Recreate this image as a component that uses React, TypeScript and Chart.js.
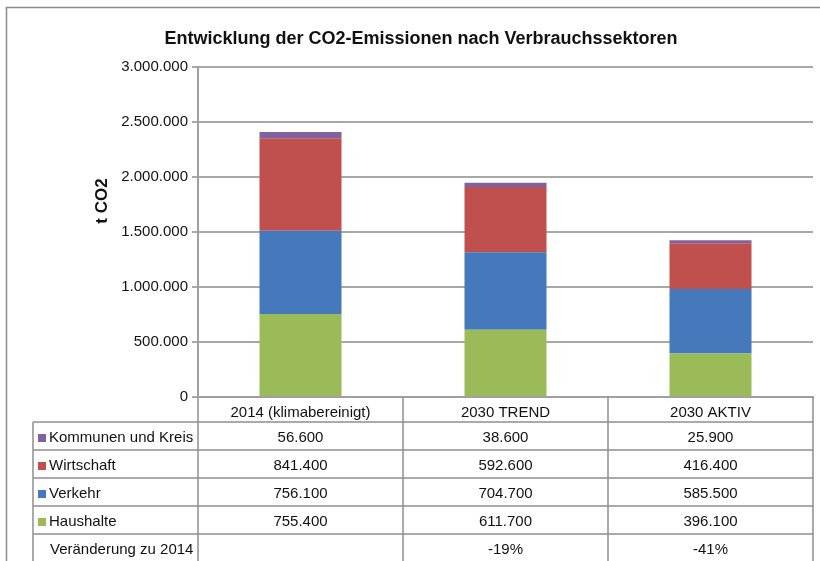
import React, { useEffect, useRef } from "react";
import { Chart, registerables } from "chart.js";

Chart.register(...registerables);

const categories = ["2014 (klimabereinigt)", "2030 TREND", "2030 AKTIV"];
const seriesNames = ["Haushalte", "Verkehr", "Wirtschaft", "Kommunen und Kreis"];
const haushalte = [755400, 611700, 396100];
const verkehr = [756100, 704700, 585500];
const wirtschaft = [841400, 592600, 416400];
const kommunen = [56600, 38600, 25900];
const changeLabel = "Veränderung zu 2014";
const changeValues = ["", "-19%", "-41%"];
const seriesColors = ["#9BBB59", "#4579BC", "#C0504D", "#7F63A1"];
const yTicks = [0, 500000, 1000000, 1500000, 2000000, 2500000, 3000000];
const titleText = "Entwicklung der CO2-Emissionen nach Verbrauchssektoren";
const yTitle = "t CO2";

const fmt = (v: number) => {
  const s = Math.round(v).toString();
  return s.replace(/\B(?=(\d{3})+(?!\d))/g, ".");
};

const FONT = "'Liberation Sans', Arial, sans-serif";

const tablePlugin = {
  id: "tablePlugin",
  afterDraw(chart: any) {
    const ctx = chart.ctx as CanvasRenderingContext2D;
    const area = chart.chartArea;
    const x = chart.scales.x;
    const step = x.getPixelForValue(1) - x.getPixelForValue(0);
    const bounds = [0, 1, 2].map((i) => x.getPixelForValue(i) - step / 2);
    bounds.push(x.getPixelForValue(2) + step / 2);
    const tableLeft = 33;
    const headerBottom = 422;
    const rowH = 28;
    const bottom = 561 + 10;
    ctx.save();
    // frame
    ctx.strokeStyle = "#8C8C8C";
    ctx.lineWidth = 1.5;
    ctx.strokeRect(6.5, 7.5, 900, 700);
    // title
    ctx.fillStyle = "#111";
    ctx.font = `bold 18px ${FONT}`;
    ctx.textAlign = "center";
    ctx.textBaseline = "middle";
    ctx.fillText(titleText, 421, 39);
    // y title
    ctx.save();
    ctx.translate(102, 201);
    ctx.rotate(-Math.PI / 2);
    ctx.font = `bold 17px ${FONT}`;
    ctx.fillText(yTitle, 0, 0);
    ctx.restore();
    // table lines
    ctx.strokeStyle = "#8E8E8E";
    ctx.lineWidth = 1.5;
    ctx.beginPath();
    bounds.forEach((bx: number) => {
      ctx.moveTo(bx, area.bottom);
      ctx.lineTo(bx, bottom);
    });
    ctx.moveTo(tableLeft, headerBottom);
    ctx.lineTo(tableLeft, bottom);
    for (let r = 0; r <= 5; r++) {
      const y = headerBottom + r * rowH;
      ctx.moveTo(tableLeft, y);
      ctx.lineTo(bounds[3], y);
    }
    ctx.stroke();
    // rows
    const rows = [
      { name: seriesNames[3], color: seriesColors[3], vals: kommunen.map(fmt) },
      { name: seriesNames[2], color: seriesColors[2], vals: wirtschaft.map(fmt) },
      { name: seriesNames[1], color: seriesColors[1], vals: verkehr.map(fmt) },
      { name: seriesNames[0], color: seriesColors[0], vals: haushalte.map(fmt) },
      { name: changeLabel, color: null as string | null, vals: changeValues },
    ];
    ctx.font = `15px ${FONT}`;
    rows.forEach((row, r) => {
      const cy = headerBottom + r * rowH + rowH / 2 + 2;
      if (row.color) {
        ctx.fillStyle = row.color;
        ctx.fillRect(38, cy - 4, 8, 8);
      }
      ctx.fillStyle = "#111";
      ctx.textAlign = "left";
      ctx.fillText(row.name, row.color ? 49 : 50, cy);
      ctx.textAlign = "center";
      row.vals.forEach((v: string, i: number) => {
        ctx.fillText(v, x.getPixelForValue(i), cy);
      });
    });
    ctx.restore();
  },
};

export default function App() {
  const ref = useRef<HTMLCanvasElement>(null);
  useEffect(() => {
    if (!ref.current) return;
    const data = [haushalte, verkehr, wirtschaft, kommunen];
    const chart = new Chart(ref.current, {
      type: "bar",
      data: {
        labels: categories,
        datasets: data.map((d, i) => ({
          label: seriesNames[i],
          data: d,
          backgroundColor: seriesColors[i],
          borderWidth: 0,
          barPercentage: 0.4,
          categoryPercentage: 1,
        })),
      },
      options: {
        responsive: false,
        animation: false,
        layout: { padding: { top: 67, right: 7, left: 0, bottom: 0 } },
        plugins: {
          legend: { display: false },
          title: { display: false },
          tooltip: { enabled: false },
        },
        scales: {
          x: {
            stacked: true,
            grid: { display: false, drawTicks: false },
            border: { display: true, color: "#A0A0A0", width: 2 },
            ticks: {
              padding: 7,
              color: "#111",
              font: { family: FONT, size: 15 },
            },
            afterFit: (s: any) => {
              s.height = 164;
            },
          },
          y: {
            stacked: true,
            min: 0,
            max: 3000000,
            afterBuildTicks: (s: any) => {
              s.ticks = yTicks.map((v) => ({ value: v }));
            },
            grid: { color: "#A8A8A8", lineWidth: 2, tickLength: 6 },
            border: { display: true, color: "#A0A0A0", width: 2 },
            ticks: {
              padding: 4,
              color: "#111",
              font: { family: FONT, size: 15 },
              callback: (v: any) => fmt(Number(v)),
            },
            afterFit: (s: any) => {
              s.width = 198;
            },
          },
        },
      },
      plugins: [tablePlugin],
    });
    return () => chart.destroy();
  }, []);
  return (
    <div style={{ position: "absolute", left: 0, top: 0, width: 820, height: 561, background: "#fff" }}>
      <canvas ref={ref} width={820} height={561} style={{ display: "block" }} />
    </div>
  );
}
